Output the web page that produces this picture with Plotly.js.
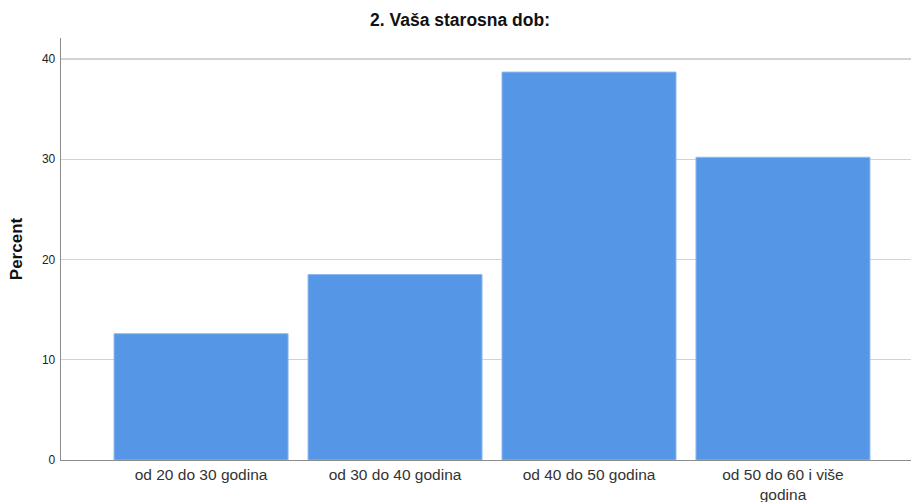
<!DOCTYPE html>
<html>
<head>
<meta charset="utf-8">
<script src="https://cdn.plot.ly/plotly-3.0.1.min.js"></script>
<style>html,body{margin:0;padding:0;background:#fff;}#chart{width:911px;height:502px;}</style>
</head>
<body>
<div id="chart"></div>
<script>
var categories = ["od 20 do 30 godina", "od 30 do 40 godina", "od 40 do 50 godina", "od 50 do 60 i više<br>godina"];
var percentValues = [12.6, 18.5, 38.7, 30.2];
var yTickValues = [0, 10, 20, 30, 40];

var trace = {
  type: 'bar',
  x: categories,
  y: percentValues,
  width: 0.897,
  marker: {color: '#5596e6', line: {color: '#8fb9ef', width: 1}},
  hoverinfo: 'x+y'
};

var layout = {
  width: 911, height: 502,
  margin: {l: 61, r: 0, t: 38, b: 42},
  paper_bgcolor: '#fff', plot_bgcolor: '#fff',
  font: {family: 'Liberation Sans, Arial, sans-serif', color: '#222'},
  title: {text: '<b>2. Vaša starosna dob:</b>', x: 0.505, xanchor: 'center', y: 0.96, yanchor: 'middle', font: {size: 17.5, color: '#111'}},
  showlegend: false,
  bargap: 0,
  xaxis: {
    type: 'category',
    range: [-0.722, 3.66],
    showgrid: false,
    showline: true, linecolor: '#8c8c8c', linewidth: 1.3,
    ticks: '',
    ticklabelstandoff: 0,
    tickfont: {size: 15.5, color: '#333'},
    zeroline: false,
    fixedrange: true
  },
  yaxis: {
    range: [0, 42.1],
    tickvals: yTickValues,
    showgrid: true, gridcolor: '#d2d2d2', gridwidth: 1.3,
    showline: true, linecolor: '#8c8c8c', linewidth: 1.3,
    ticks: '',
    ticklabelstandoff: 2,
    tickfont: {size: 12, color: '#222'},
    zeroline: false,
    title: {text: '<b>Percent</b>', font: {size: 17, color: '#111'}, standoff: 15},
    fixedrange: true
  }
};

Plotly.newPlot('chart', [trace], layout, {displayModeBar: false, staticPlot: true});
</script>
</body>
</html>
